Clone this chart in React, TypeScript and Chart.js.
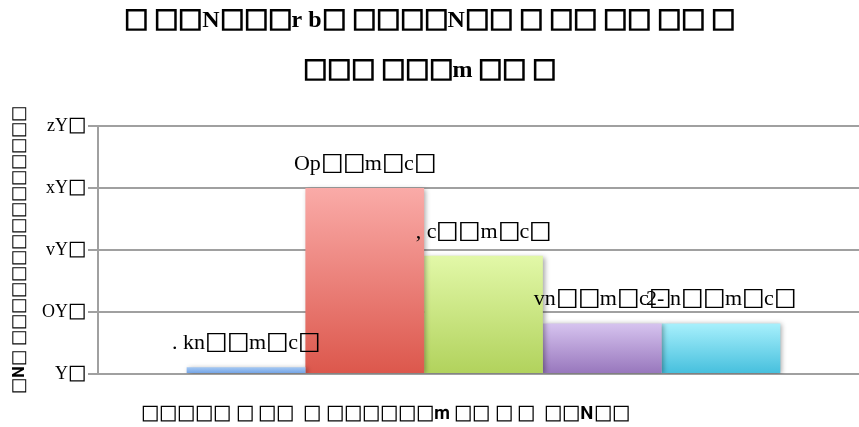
import React, { useEffect, useRef } from "react";
import { Chart, registerables } from "chart.js";

Chart.register(...registerables);

// ---- data ----
const titleLines = [
  "𐀀 𐀀𐀀N𐀀𐀀𐀀r b𐀀 𐀀𐀀𐀀𐀀N𐀀𐀀 𐀀 𐀀𐀀 𐀀𐀀 𐀀𐀀 𐀀",
  "𐀀𐀀𐀀 𐀀𐀀𐀀m 𐀀𐀀 𐀀",
];
const yAxisTitle = "𐀀𝐍𐀀 𐀀𐀀𐀀𐀀𐀀𐀀𐀀𐀀𐀀𐀀𐀀𐀀𐀀𐀀𐀀";
const categories = ["𐀀𐀀𐀀𐀀𐀀 𐀀 𐀀𐀀  𐀀 𐀀𐀀𐀀𐀀𐀀𐀀𝐦 𐀀𐀀 𐀀 𐀀  𐀀𐀀𝐍𐀀𐀀"];
const seriesNames = ["s1", "s2", "s3", "s4", "s5"];
const seriesValues = [2.2, 60, 38.1, 16.3, 16.3];
const valueLabels = [". kn𐀀𐀀m𐀀c𐀀", "Op𐀀𐀀m𐀀c𐀀", ", c𐀀𐀀m𐀀c𐀀", "vn𐀀𐀀m𐀀c𐀀", "2- n𐀀𐀀m𐀀c𐀀"];
const yTickValues = [0, 20, 40, 60, 80];
const yTickLabels = ["Y𐀀", "OY𐀀", "vY𐀀", "xY𐀀", "zY𐀀"];

const topColors = ["#a6c9f3", "#faaba8", "#e2f8a8", "#d6c3ef", "#a8f0fc"];
const bottomColors = ["#6d9fe4", "#dc574c", "#b1d25c", "#9776bc", "#45bfdd"];

const FONT = "'Liberation Serif', 'Times New Roman', serif";
const PLOT_OVERFLOW_RIGHT = 10;

export default function App() {
  const ref = useRef<HTMLCanvasElement | null>(null);

  useEffect(() => {
    document.body.style.margin = "0";
    const canvas = ref.current;
    if (!canvas) return;

    const extendPlugin = {
      id: "extendRight",
      afterLayout(chart: any) {
        const xs = chart.scales.x;
        chart.chartArea.right += PLOT_OVERFLOW_RIGHT;
        chart.chartArea.width = chart.chartArea.right - chart.chartArea.left;
        xs.right += PLOT_OVERFLOW_RIGHT;
        xs.width += PLOT_OVERFLOW_RIGHT;
        xs.configure();
        const ys = chart.scales.y;
        if (ys) ys.configure();
      },
    };

    const shadowPlugin = {
      id: "barShadow",
      beforeDatasetsDraw(chart: any) {
        const c = chart.ctx;
        c.save();
        c.shadowColor = "rgba(0,0,0,0.35)";
        c.shadowBlur = 5;
        c.shadowOffsetX = 2;
        c.shadowOffsetY = 1;
      },
      afterDatasetsDraw(chart: any) {
        chart.ctx.restore();
      },
    };

    const labelPlugin = {
      id: "valueLabels",
      afterDatasetsDraw(chart: any) {
        const c = chart.ctx;
        c.save();
        c.font = `22px ${FONT}`;
        c.fillStyle = "#000";
        c.textAlign = "center";
        c.textBaseline = "alphabetic";
        chart.data.datasets.forEach((ds: any, i: number) => {
          const meta = chart.getDatasetMeta(i);
          meta.data.forEach((el: any) => {
            c.fillText(valueLabels[i], el.x, el.y - 18);
          });
        });
        const xs = chart.scales.x;
        c.font = `18px ${FONT}`;
        c.textBaseline = "middle";
        categories.forEach((cat, i) => {
          c.fillText(cat, xs.getPixelForValue(i) - 98, chart.chartArea.bottom + 40);
        });
        c.restore();
      },
    };

    const chart = new Chart(canvas, {
      type: "bar",
      data: {
        labels: categories,
        datasets: seriesNames.map((name, i) => ({
          label: name,
          data: [seriesValues[i]],
          backgroundColor: (ctx: any) => {
            const ch = ctx.chart;
            const ys = ch.scales && ch.scales.y;
            if (!ys || ctx.raw == null) return topColors[i];
            const yTop = ys.getPixelForValue(ctx.raw);
            const yBot = ys.getPixelForValue(0);
            if (!isFinite(yTop) || !isFinite(yBot) || yTop === yBot) return topColors[i];
            const g = ch.ctx.createLinearGradient(0, yTop, 0, yBot);
            g.addColorStop(0, topColors[i]);
            g.addColorStop(1, bottomColors[i]);
            return g;
          },
          borderWidth: 0,
          categoryPercentage: 0.77,
          barPercentage: 1,
        })),
      },
      options: {
        animation: false,
        responsive: false,
        layout: { padding: { left: 0, right: 0, top: 0, bottom: 45 } },
        plugins: {
          legend: { display: false },
          tooltip: { enabled: false },
          title: {
            display: true,
            text: titleLines,
            color: "#000",
            font: { family: FONT, size: 24, weight: "bold", lineHeight: 2.08 },
            padding: { top: -4, bottom: 30 },
          },
        },
        scales: {
          x: {
            grid: { display: false },
            border: { display: false },
            ticks: { display: false },
          },
          y: {
            min: 0,
            max: 80,
            afterBuildTicks: (scale: any) => {
              scale.ticks = yTickValues.map((v) => ({ value: v }));
            },
            afterFit: (scale: any) => {
              scale.width = 98;
            },
            ticks: {
              color: "#000",
              font: { family: FONT, size: 18 },
              padding: 2,
              callback: (v: any) => {
                const idx = yTickValues.indexOf(Number(v));
                return idx >= 0 ? yTickLabels[idx] : "";
              },
            },
            grid: { color: "#a0a0a0", lineWidth: 2, tickLength: 10 },
            border: { display: true, color: "#a0a0a0", width: 2 },
            title: {
              display: true,
              text: yAxisTitle,
              color: "#000",
              font: { family: FONT, size: 16 },
              padding: { top: 10, bottom: 0 },
            },
          },
        },
      },
      plugins: [extendPlugin, shadowPlugin, labelPlugin],
    } as any);

    return () => chart.destroy();
  }, []);

  return (
    <div style={{ width: 859, height: 427 }}>
      <canvas ref={ref} width={859} height={427} style={{ display: "block" }} />
    </div>
  );
}
